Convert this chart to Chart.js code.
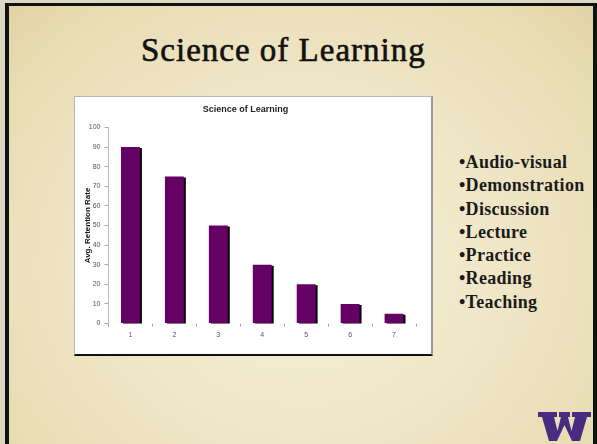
<!DOCTYPE html>
<html>
<head>
<meta charset="utf-8">
<title>Science of Learning</title>
<script src="https://cdn.jsdelivr.net/npm/chart.js@4.4.1/dist/chart.umd.min.js"></script>
<style>
    html, body { margin: 0; padding: 0; }
    body {
        width: 597px;
        height: 444px;
        overflow: hidden;
        position: relative;
        background: #dcd7c2;
    }
    #slide {
        position: absolute;
        left: 5px;
        top: 3px;
        width: 592px;
        height: 450px;
        box-sizing: border-box;
        border-left: 4px solid #111;
        border-top: 3px solid #111;
        border-right: 4px solid #111;
        background: radial-gradient(ellipse at 50% 58%, #f5efd8 0%, #f0e7c9 45%, #e8dcb2 85%, #e0d2a4 100%);
    }
    #title {
        position: absolute;
        left: 141px;
        top: 34px;
        margin: 0;
        font-family: "Liberation Serif", "Times New Roman", serif;
        font-weight: normal;
        font-size: 33px;
        letter-spacing: 1px;
        -webkit-text-stroke: 0.6px #111;
        color: #111;
        white-space: nowrap;
        line-height: 1;
    }
    #chartBox {
        position: absolute;
        left: 74px;
        top: 96px;
        width: 359px;
        height: 260px;
        box-sizing: border-box;
        background: #fff;
        border-top: 1px solid #b5b5b5;
        border-left: 1px solid #b5b5b5;
        border-right: 2px solid #9a9a9a;
        border-bottom: 2px solid #111;
    }
    #chartBox canvas { position: absolute; left: 0; top: 0; }
    #topics {
        position: absolute;
        left: 459px;
        top: 151px;
        margin: 0;
        padding: 0;
        list-style: none;
        font-family: "Liberation Serif", "Times New Roman", serif;
        font-weight: bold;
        font-size: 18px;
        letter-spacing: 0.3px;
        line-height: 23.3px;
        color: #1a1a1a;
        white-space: nowrap;
    }
    #logo { position: absolute; left: 538px; top: 412px; }
</style>
</head>
<body>
<div id="slide"></div>
<h1 id="title">Science of Learning</h1>
<div id="chartBox"><canvas id="learningChart" width="356" height="257"></canvas></div>
<ul id="topics"></ul>
<svg id="logo" width="53" height="30" viewBox="0 0 53 30">
    <path d="M0,0 H19 V5 H16 L19.5,19 L23,5 H21 V0 H32 V5 H30 L33.5,19 L37,5 H34 V0 H53 V5 H49 L42,29 H34 L26.5,13 L19,29 H11 L4,5 H0 Z" fill="#472c80"/>
</svg>

<script>
// values
const categories = ['1', '2', '3', '4', '5', '6', '7'];
const retentionRates = [90, 75, 50, 30, 20, 10, 5];
const yTicks = [0, 10, 20, 30, 40, 50, 60, 70, 80, 90, 100];
const methods = ['Audio-visual', 'Demonstration', 'Discussion', 'Lecture', 'Practice', 'Reading', 'Teaching'];

const list = document.getElementById('topics');
methods.forEach(m => {
    const li = document.createElement('li');
    li.textContent = '\u2022' + m;
    list.appendChild(li);
});

// black drop shadow on the bars, like the old Excel chart
const barShadow = {
    id: 'barShadow',
    beforeDatasetsDraw(chart) {
        const ctx = chart.ctx;
        ctx.save();
        ctx.shadowColor = '#000';
        ctx.shadowOffsetX = 2;
        ctx.shadowOffsetY = 1;
        ctx.shadowBlur = 0;
    },
    afterDatasetsDraw(chart) {
        chart.ctx.restore();
    }
};

const ctx = document.getElementById('learningChart').getContext('2d');

new Chart(ctx, {
    type: 'bar',
    data: {
        labels: categories,
        datasets: [{
            label: 'Avg. Retention Rate',
            data: retentionRates,
            backgroundColor: '#650065',
            borderWidth: 0,
            barPercentage: 0.43,
            categoryPercentage: 1
        }]
    },
    options: {
        responsive: false,
        animation: false,
        layout: { padding: { left: 0, right: 15, top: 0, bottom: 0 } },
        plugins: {
            legend: { display: false },
            tooltip: { enabled: false },
            title: {
                display: true,
                text: 'Science of Learning',
                color: '#222',
                font: { family: 'Liberation Sans, Arial, sans-serif', size: 9, weight: 'bold' },
                padding: { top: 7.6, bottom: 12 }
            }
        },
        scales: {
            x: {
                border: { display: false },
                grid: { drawOnChartArea: false, tickLength: 3, color: '#999', offset: true },
                ticks: {
                    color: '#555',
                    padding: 4.5,
                    font: { family: 'Liberation Sans, Arial, sans-serif', size: 7 }
                },
                afterFit: scale => { scale.height = 30.5; }
            },
            y: {
                min: 0,
                max: 100,
                afterBuildTicks: scale => { scale.ticks = yTicks.map(v => ({ value: v })); },
                border: { display: true, color: '#bbb' },
                grid: { drawOnChartArea: false, tickLength: 4, color: '#aaa' },
                ticks: {
                    color: '#555',
                    padding: 4,
                    font: { family: 'Liberation Sans, Arial, sans-serif', size: 7 }
                },
                title: {
                    display: true,
                    text: 'Avg. Retention Rate',
                    color: '#111',
                    font: { family: 'Liberation Sans, Arial, sans-serif', size: 8, weight: 'bold' },
                    padding: { top: 8.2, bottom: 0 }
                },
                afterFit: scale => { scale.width = 33.5; }
            }
        }
    },
    plugins: [barShadow]
});
</script>
</body>
</html>
